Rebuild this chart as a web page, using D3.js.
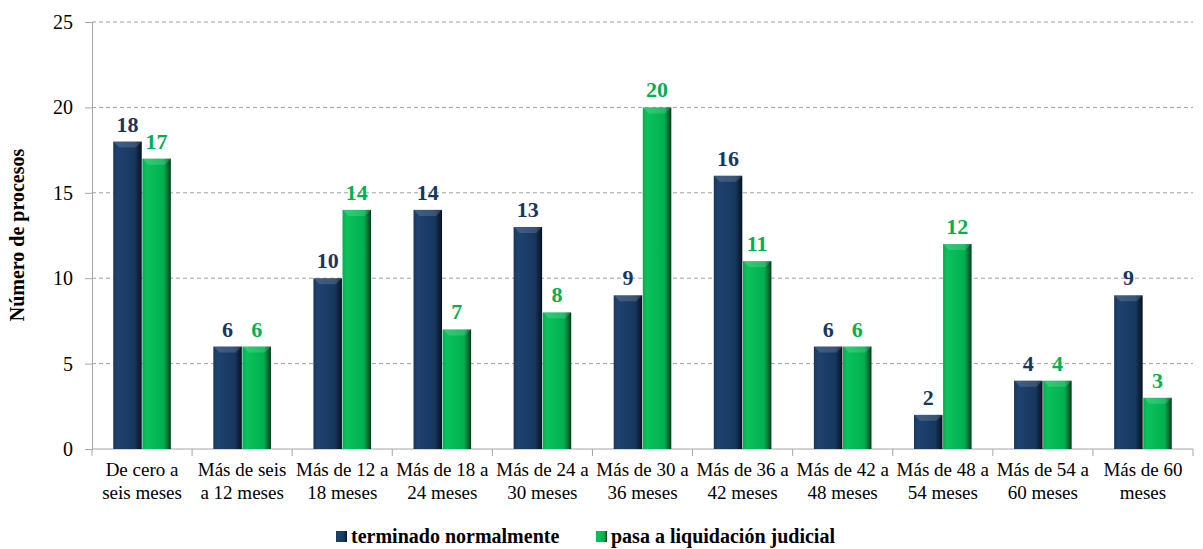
<!DOCTYPE html>
<html>
<head>
<meta charset="utf-8">
<script src="https://cdn.jsdelivr.net/npm/d3@7"></script>
<style>
body { margin: 0; background: #fff; }
</style>
</head>
<body>
<div id="chart"></div>
<script>
var categories = [
	["De cero a", "seis meses"],
	["Más de seis", "a 12 meses"],
	["Más de 12 a", "18 meses"],
	["Más de 18 a", "24 meses"],
	["Más de 24 a", "30 meses"],
	["Más de 30 a", "36 meses"],
	["Más de 36 a", "42 meses"],
	["Más de 42 a", "48 meses"],
	["Más de 48 a", "54 meses"],
	["Más de 54 a", "60 meses"],
	["Más de 60", "meses"]
];
var terminado = [18, 6, 10, 14, 13, 9, 16, 6, 2, 4, 9];
var liquidacion = [17, 6, 14, 7, 8, 20, 11, 6, 12, 4, 3];
var seriesNames = ["terminado normalmente", "pasa a liquidación judicial"];
var yTicks = [0, 5, 10, 15, 20, 25];

var W = 1203, H = 549;
var FONT = "'Liberation Serif', 'Times New Roman', Tinos, 'DejaVu Serif', serif";

var svg = d3.select("#chart").append("svg")
	.attr("width", W)
	.attr("height", H)
	.style("font-family", FONT);

// gradients for the bevelled look
var defs = svg.append("defs");
function makeGrad(id, light, mid, dark) {
	var g = defs.append("linearGradient").attr("id", id)
		.attr("x1", "0").attr("x2", "1").attr("y1", "0").attr("y2", "0");
	g.append("stop").attr("offset", "0").attr("stop-color", mid);
	g.append("stop").attr("offset", "0.15").attr("stop-color", light);
	g.append("stop").attr("offset", "0.75").attr("stop-color", mid);
	g.append("stop").attr("offset", "1").attr("stop-color", dark);
}
makeGrad("gNavy", "#1f4270", "#17375e", "#07121f");
makeGrad("gGreen", "#0cc25c", "#00b050", "#003d1b");

var colors = ["#17375e", "#00b050"];
var fills = ["url(#gNavy)", "url(#gGreen)"];

var x = d3.scaleBand()
	.domain(d3.range(categories.length))
	.range([92, 1193]);

var xInner = d3.scaleBand()
	.domain([0, 1])
	.range([0, x.bandwidth()])
	.paddingOuter(0.73)
	.paddingInner(0.02);

var y = d3.scaleLinear().domain([0, 25]).range([449, 22]);

// gridlines
svg.append("g").selectAll("line")
	.data(yTicks.slice(1))
	.enter().append("line")
	.attr("x1", 92).attr("x2", 1193)
	.attr("y1", function(d){ return y(d); })
	.attr("y2", function(d){ return y(d); })
	.attr("stroke", "#a0a0a0")
	.attr("stroke-dasharray", "4,3");

// y axis
var yAxis = d3.axisLeft(y).tickValues(yTicks).tickSize(7).tickPadding(12);
var gy = svg.append("g").attr("transform", "translate(92,0)").call(yAxis);
gy.attr("font-family", null);
gy.selectAll("text").style("font-size", "20px").style("font-family", FONT).attr("fill", "#000");
gy.selectAll("line, path").attr("stroke", "#a6a6a6");

// x axis line + ticks
svg.append("line").attr("x1", 92).attr("x2", 1193).attr("y1", 449).attr("y2", 449)
	.attr("stroke", "#a6a6a6");
svg.append("g").selectAll("line")
	.data(d3.range(categories.length + 1))
	.enter().append("line")
	.attr("x1", function(d){ return 92 + d * x.step(); })
	.attr("x2", function(d){ return 92 + d * x.step(); })
	.attr("y1", 449).attr("y2", 456)
	.attr("stroke", "#a6a6a6");

// category labels
var cl = svg.append("g").selectAll("text")
	.data(categories)
	.enter().append("text")
	.attr("text-anchor", "middle")
	.style("font-size", "19px")
	.style("font-family", FONT)
	.attr("fill", "#000");
cl.append("tspan")
	.attr("x", function(d, i){ return x(i) + x.bandwidth() / 2; })
	.attr("y", 476)
	.text(function(d){ return d[0]; });
cl.append("tspan")
	.attr("x", function(d, i){ return x(i) + x.bandwidth() / 2; })
	.attr("y", 499)
	.text(function(d){ return d[1]; });

// bars
[terminado, liquidacion].forEach(function(vals, s) {
	var g = svg.append("g");
	g.selectAll("rect")
		.data(vals)
		.enter().append("rect")
		.attr("x", function(d, i){ return x(i) + xInner(s); })
		.attr("y", function(d){ return y(d); })
		.attr("width", xInner.bandwidth())
		.attr("height", function(d){ return y(0) - y(d); })
		.attr("fill", fills[s]);
	// top bevel
	g.selectAll("path.bevel")
		.data(vals)
		.enter().append("path")
		.attr("class", "bevel")
		.attr("d", function(d, i){
			var x0 = x(i) + xInner(s), w = xInner.bandwidth(), y0 = y(d);
			return "M" + x0 + "," + y0 + "L" + (x0 + w) + "," + y0 +
				"L" + (x0 + w - 6) + "," + (y0 + 6) + "L" + (x0 + 6) + "," + (y0 + 6) + "Z";
		})
		.attr("fill", "#ffffff")
		.attr("opacity", 0.15);
	g.selectAll("text")
		.data(vals)
		.enter().append("text")
		.attr("x", function(d, i){ return x(i) + xInner(s) + xInner.bandwidth() / 2; })
		.attr("y", function(d){ return y(d) - 10; })
		.attr("text-anchor", "middle")
		.style("font-size", "22px")
		.style("font-weight", "bold")
		.style("font-family", FONT)
		.attr("fill", colors[s])
		.text(function(d){ return d; });
});

// y label
svg.append("text")
	.attr("transform", "translate(24,235) rotate(-90)")
	.attr("text-anchor", "middle")
	.style("font-size", "20px")
	.style("font-weight", "bold")
	.style("font-family", FONT)
	.text("Número de procesos");

// legend
var legX = [336, 596];
var leg = svg.append("g");
seriesNames.forEach(function(name, i) {
	leg.append("rect")
		.attr("x", legX[i]).attr("y", 531)
		.attr("width", 11).attr("height", 11)
		.attr("fill", fills[i]);
	leg.append("text")
		.attr("x", legX[i] + 15).attr("y", 543)
		.style("font-size", "20px")
		.style("font-weight", "bold")
		.style("font-family", FONT)
		.attr("fill", "#000")
		.text(name);
});
</script>
</body>
</html>
